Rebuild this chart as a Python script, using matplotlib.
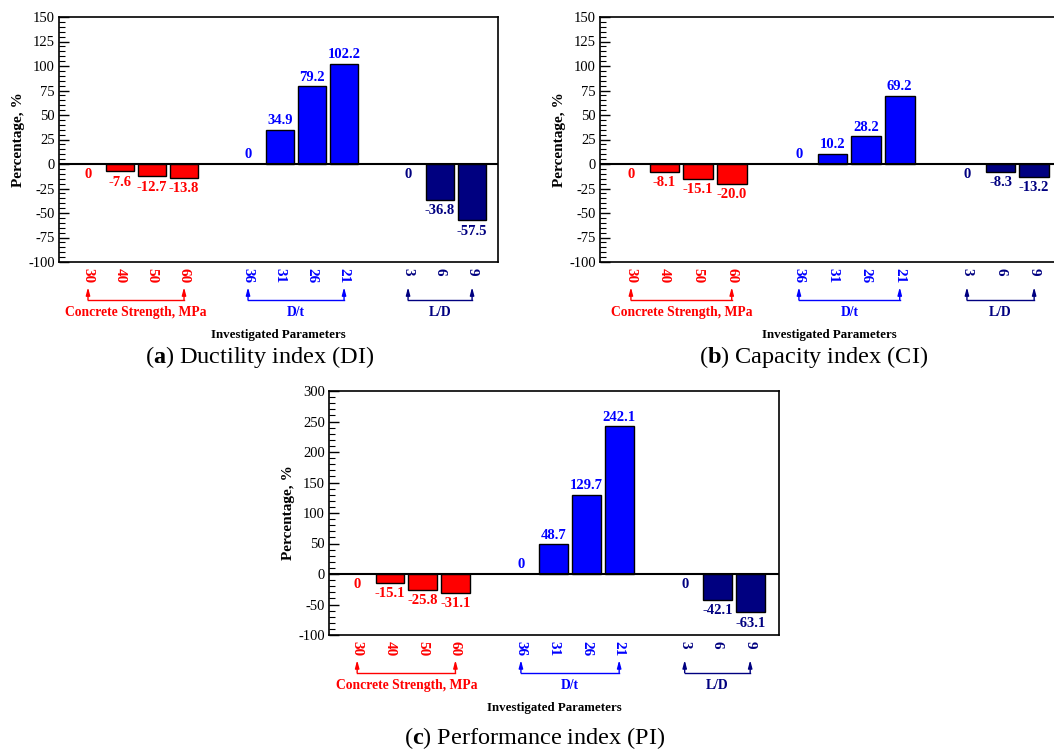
import matplotlib
matplotlib.use("Agg")
import matplotlib.pyplot as plt
import matplotlib.transforms as mtransforms
from matplotlib.ticker import MultipleLocator

plt.rcParams["font.family"] = ["Liberation Serif", "DejaVu Serif"]
plt.rcParams["mathtext.fontset"] = "custom"
plt.rcParams["mathtext.rm"] = "Liberation Serif"
plt.rcParams["mathtext.bf"] = "Liberation Serif:bold"
plt.rcParams["axes.unicode_minus"] = False

# Parameter groups and their tick labels
group_names = ["Concrete Strength, MPa", "D/t", "L/D"]
strength_labels = ["30", "40", "50", "60"]
dt_labels = ["36", "31", "26", "21"]
ld_labels = ["3", "6", "9"]
group_colors = ["#ff0000", "#0000ff", "#000080"]

# Percentage change per index
di_strength = [0, -7.6, -12.7, -13.8]
di_dt = [0, 34.9, 79.2, 102.2]
di_ld = [0, -36.8, -57.5]

ci_strength = [0, -8.1, -15.1, -20.0]
ci_dt = [0, 10.2, 28.2, 69.2]
ci_ld = [0, -8.3, -13.2]

pi_strength = [0, -15.1, -25.8, -31.1]
pi_dt = [0, 48.7, 129.7, 242.1]
pi_ld = [0, -42.1, -63.1]

W, H = 1054, 753
fig = plt.figure(figsize=(W / 100, H / 100), dpi=100)


def px_axes(left, right, top, bottom):
    return fig.add_axes([left / W, 1 - bottom / H, (right - left) / W, (bottom - top) / H])


def fmt(v):
    return "0" if v == 0 else f"{v:.1f}"


def draw_panel(ax, groups, ylim, major, minor, xlim):
    label_sets = [strength_labels, dt_labels, ld_labels]
    starts = [0, 5, 10]
    trans = mtransforms.blended_transform_factory(ax.transData, ax.transAxes)
    tick_pos, tick_lab, tick_col = [], [], []
    for gi, vals in enumerate(groups):
        color = group_colors[gi]
        xs = [starts[gi] + i for i in range(len(vals))]
        ax.bar(xs, vals, width=0.88, color=color, edgecolor="black",
               linewidth=[0 if v == 0 else 1.0 for v in vals], zorder=2)
        below = sum(vals) < 0
        for x, v in zip(xs, vals):
            down = v < 0 or (v == 0 and below)
            ax.annotate(fmt(v), (x, v), xytext=(0, -3 if down else 2),
                        textcoords="offset points", ha="center",
                        va="top" if down else "bottom", color=color,
                        fontsize=10.5, fontweight="bold")
        tick_pos += xs
        tick_lab += label_sets[gi]
        tick_col += [color] * len(xs)
        # bracket with arrows under the group
        x0, x1 = xs[0], xs[-1]
        base, tip = -0.155, -0.103
        ax.plot([x0, x1], [base, base], color=color, lw=1.0, transform=trans, clip_on=False)
        for xe in (x0, x1):
            ax.annotate("", xy=(xe, tip), xytext=(xe, base), xycoords=trans, textcoords=trans,
                        arrowprops=dict(arrowstyle="-|>,head_length=0.45,head_width=0.12",
                                        color=color, lw=1.0, shrinkA=0, shrinkB=0),
                        annotation_clip=False)
        ax.text((x0 + x1) / 2, -0.205, group_names[gi], transform=trans, ha="center",
                va="center", color=color, fontsize=9.8, fontweight="bold")

    ax.axhline(0, color="black", lw=1.5, zorder=3)
    ax.set_xlim(*xlim)
    ax.set_ylim(*ylim)
    ax.set_xticks(tick_pos)
    ax.set_xticklabels(tick_lab, rotation=270, fontsize=11, fontweight="bold")
    for lab, c in zip(ax.get_xticklabels(), tick_col):
        lab.set_color(c)
    ax.tick_params(axis="x", length=0, pad=4)
    ax.yaxis.set_major_locator(MultipleLocator(major))
    ax.yaxis.set_minor_locator(MultipleLocator(minor))
    ax.tick_params(axis="y", which="major", direction="in", length=7, width=1.0, labelsize=10.5, pad=3)
    ax.tick_params(axis="y", which="minor", direction="in", length=4, width=0.8)
    for s in ax.spines.values():
        s.set_linewidth(1.2)
    ax.set_ylabel("Percentage, %", fontsize=11, fontweight="bold", labelpad=2)
    ax.text(0.5, -0.298, "Investigated Parameters", transform=ax.transAxes, ha="center",
            va="center", fontsize=9.3, fontweight="bold")


ax_a = px_axes(59, 498, 17, 262)
draw_panel(ax_a, [di_strength, di_dt, di_ld], (-100, 150), 25, 5, (-0.906, 12.81))
ax_b = px_axes(600, 1058, 17, 262)
draw_panel(ax_b, [ci_strength, ci_dt, ci_ld], (-100, 150), 25, 5, (-0.92, 12.71))
ax_c = px_axes(329, 779, 391, 635)
draw_panel(ax_c, [pi_strength, pi_dt, pi_ld], (-100, 300), 50, 10, (-0.86, 12.88))

captions = [(260, 357, "a", "Ductility index (DI)"),
            (814, 357, "b", "Capacity index (CI)"),
            (535, 738, "c", "Performance index (PI)")]
for cx, cy, tag, text in captions:
    fig.text(cx / W, 1 - cy / H, r"($\mathbf{" + tag + r"}$) " + text, ha="center",
             va="center", fontsize=17.5)

fig.savefig("out.png", dpi=100)
